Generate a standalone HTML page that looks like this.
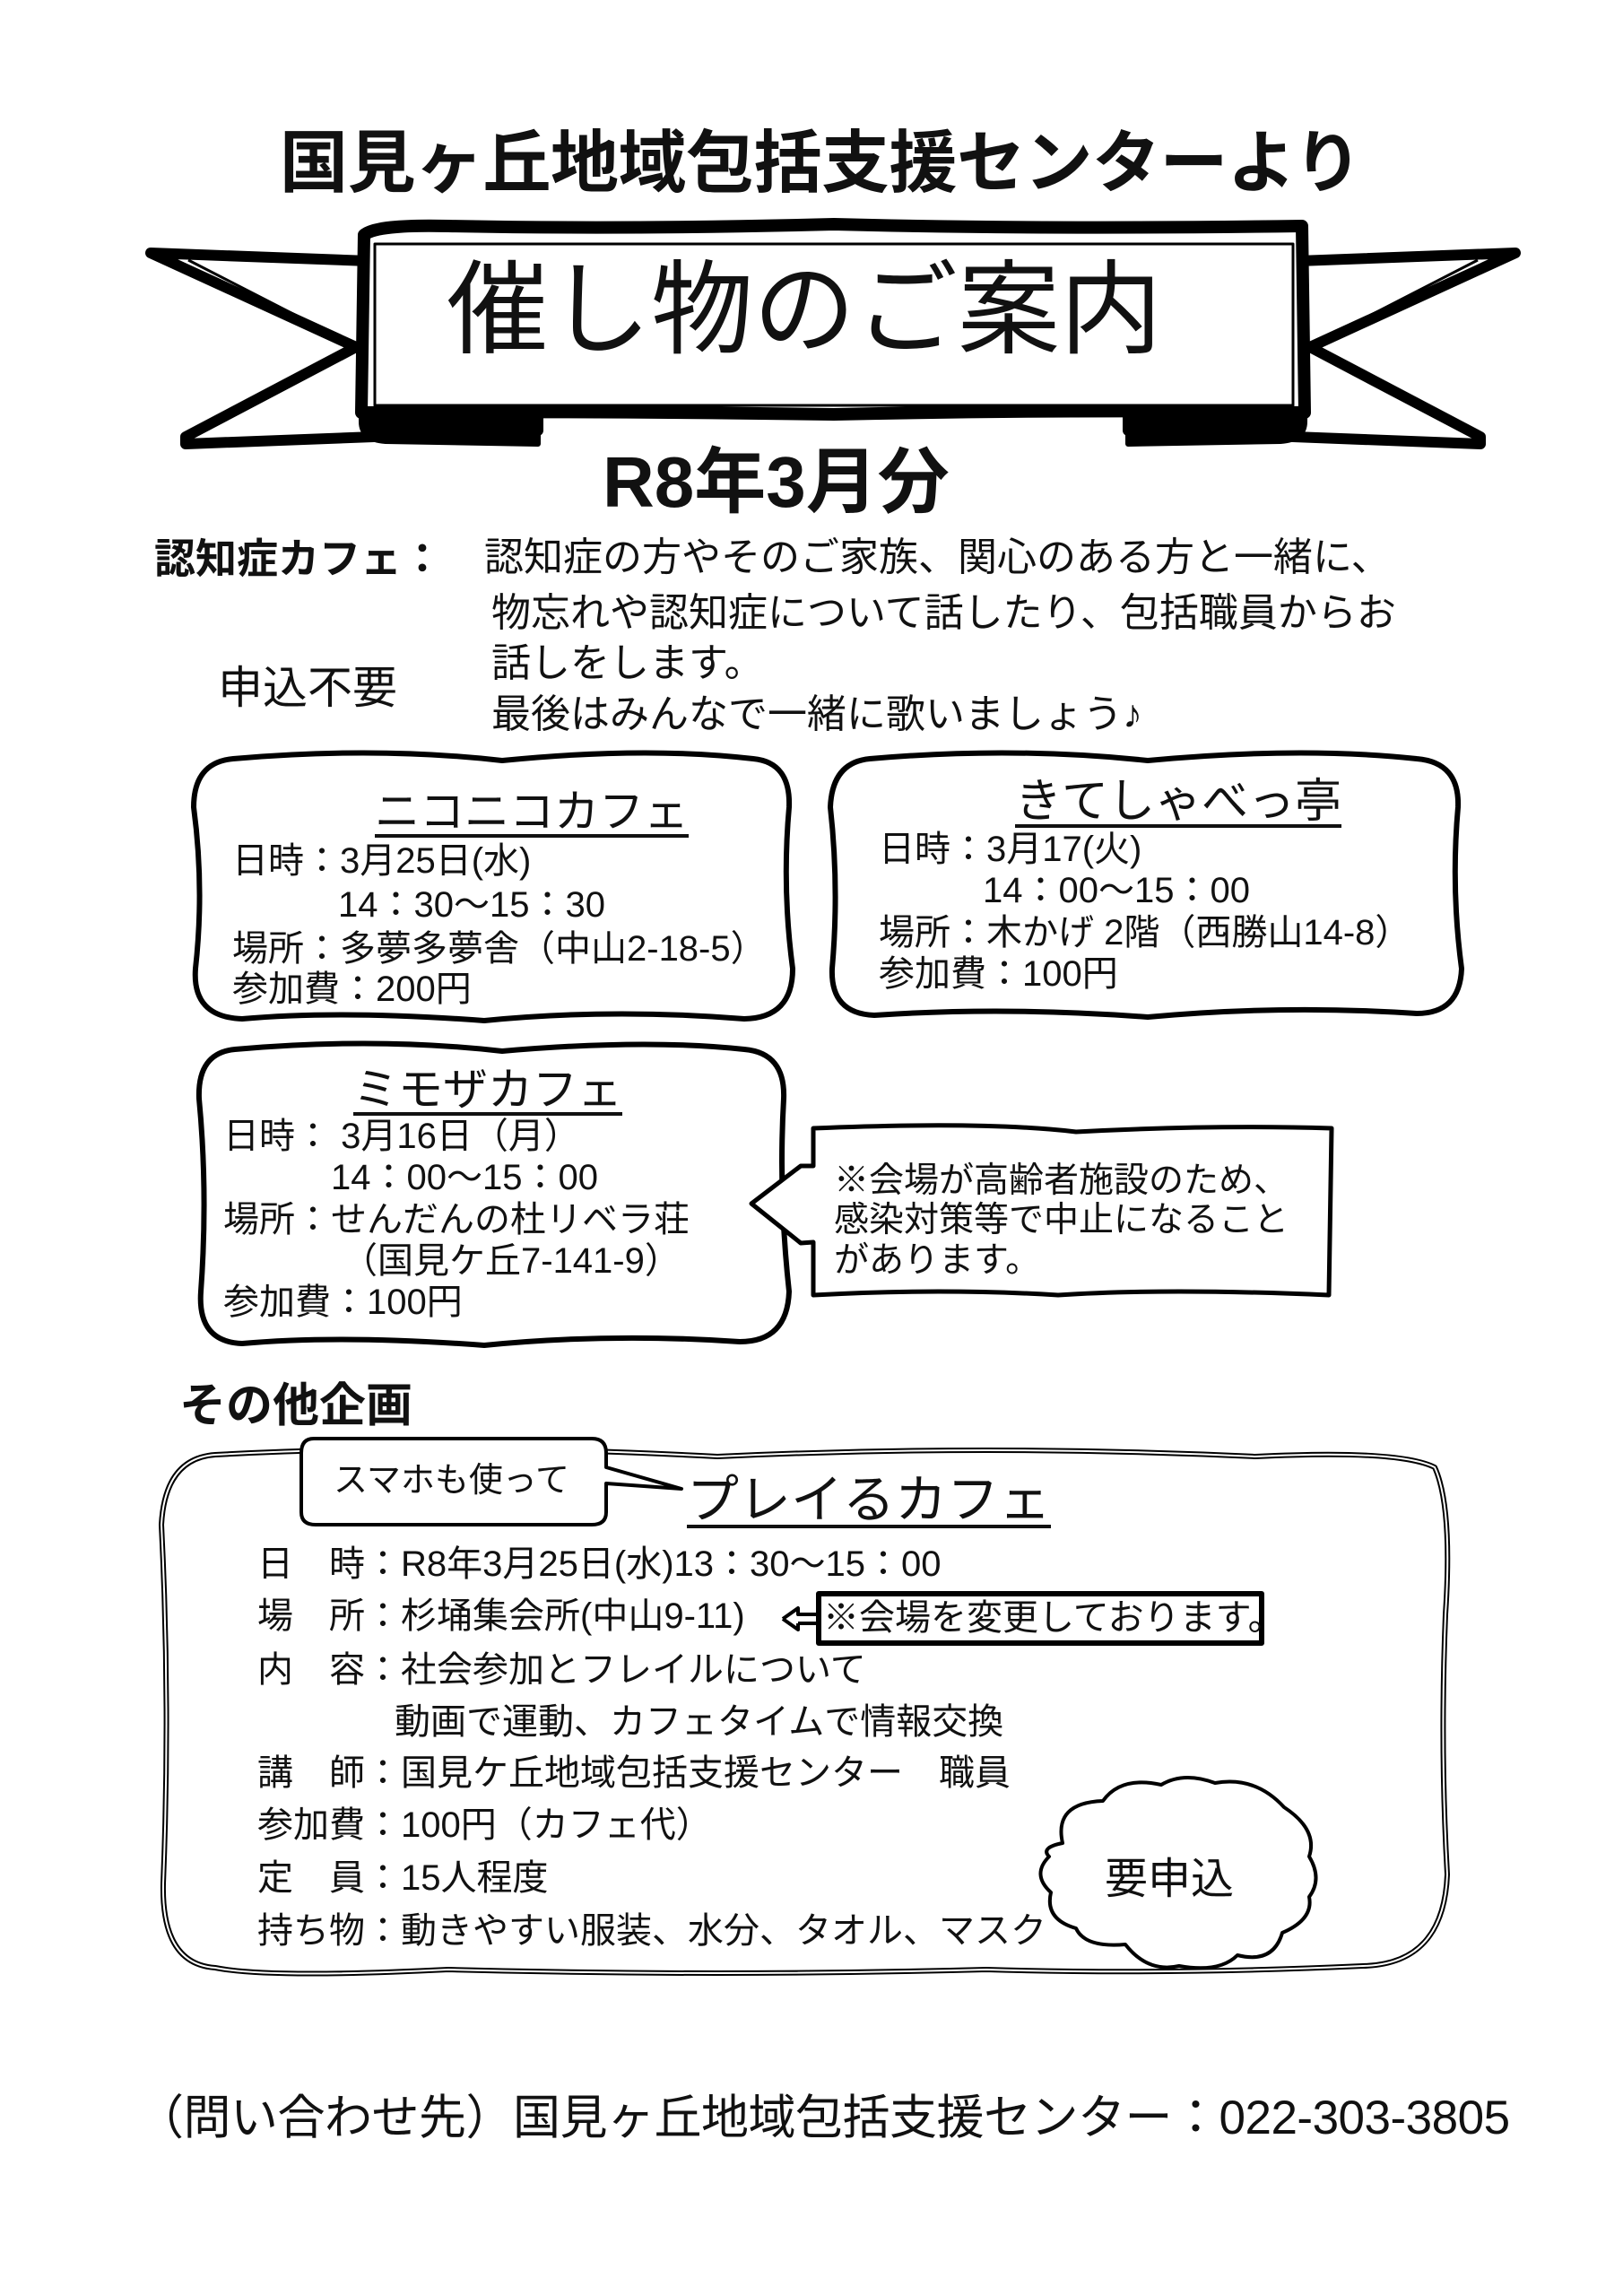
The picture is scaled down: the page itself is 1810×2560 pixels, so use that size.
<!DOCTYPE html>
<html><head><meta charset="utf-8"><style>
html,body{margin:0;padding:0;background:#fff;}
#p{position:relative;width:1810px;height:2560px;overflow:hidden;background:#fff;font-family:"Liberation Sans","Noto Sans CJK JP",sans-serif;color:#111;}
.t{position:absolute;white-space:nowrap;line-height:1;}
svg{position:absolute;left:0;top:0;}
.u{text-decoration:underline;text-decoration-thickness:4px;text-underline-offset:8px;}
</style></head><body><div id="p">
<svg width="1810" height="2560" viewBox="0 0 1810 2560">
<g fill="none" stroke="#000" stroke-linejoin="round">
<path d="M168 282 L600 298 L600 480 L207 495 L207 487 L397 387 Z" fill="#fff" stroke-width="12"/>
<path d="M1690 282 L1258 298 L1258 480 L1651 495 L1651 487 L1461 387 Z" fill="#fff" stroke-width="12"/>
<path d="M210 290 L395 385 L220 480" stroke-width="3"/>
<path d="M1648 290 L1463 385 L1638 480" stroke-width="3"/>
<path d="M403 430 L403 470 Q403 490 430 492 L600 495 L600 460 Z" fill="#000" stroke-width="6"/>
<path d="M1455 430 L1455 470 Q1455 490 1428 492 L1258 495 L1258 460 Z" fill="#000" stroke-width="6"/>
<path d="M406 262 Q420 250 500 252 Q700 256 930 250 Q1150 256 1452 252 L1455 460 Q1200 456 930 462 Q650 458 403 460 Z" fill="#fff" stroke-width="14"/>
<rect x="418" y="272" width="1024" height="180" stroke-width="3"/>
<path d="M260 846 Q420 832 560 848 Q720 832 840 846 Q882 850 880 900 Q872 990 884 1080 Q884 1135 830 1136 Q680 1124 540 1138 Q380 1126 270 1136 Q214 1134 218 1080 Q228 990 216 900 Q216 850 260 846 Z" stroke-width="6"/>
<path d="M970 846 Q1130 832 1280 848 Q1450 832 1580 846 Q1628 850 1626 900 Q1618 990 1630 1080 Q1628 1130 1580 1130 Q1430 1120 1280 1134 Q1120 1122 975 1132 Q926 1130 928 1080 Q936 990 926 900 Q928 850 970 846 Z" stroke-width="6"/>
<path d="M262 1170 Q420 1156 560 1172 Q720 1158 830 1170 Q876 1174 874 1225 Q868 1330 880 1440 Q878 1496 825 1496 Q680 1486 540 1500 Q380 1488 270 1498 Q220 1496 224 1440 Q232 1330 222 1225 Q220 1174 262 1170 Z" stroke-width="6"/>
<path d="M907 1258 Q1100 1250 1200 1262 Q1350 1254 1485 1258 L1482 1444 Q1300 1436 1180 1444 Q1050 1436 907 1444 L907 1385 L893 1386 L838 1342 L893 1300 L907 1300 Z" fill="#fff" stroke-width="5"/>
<path d="M240 1622 Q500 1608 800 1624 Q1100 1610 1400 1624 Q1560 1616 1600 1636 Q1620 1680 1612 1800 Q1606 1950 1614 2090 Q1610 2190 1520 2192 Q1300 2202 1100 2196 Q800 2204 500 2196 Q300 2206 240 2194 Q180 2190 182 2100 Q190 1900 180 1700 Q184 1626 240 1622 Z" stroke-width="6"/>
<path d="M240 1622 Q500 1608 800 1624 Q1100 1610 1400 1624 Q1560 1616 1600 1636 Q1620 1680 1612 1800 Q1606 1950 1614 2090 Q1610 2190 1520 2192 Q1300 2202 1100 2196 Q800 2204 500 2196 Q300 2206 240 2194 Q180 2190 182 2100 Q190 1900 180 1700 Q184 1626 240 1622 Z" stroke="#fff" stroke-width="2"/>
<path d="M350 1604 L660 1604 Q676 1604 676 1620 L676 1636 L760 1660 L676 1654 L676 1686 Q676 1700 660 1700 L352 1700 Q336 1700 336 1686 L336 1620 Q336 1604 350 1604 Z" fill="#fff" stroke-width="4"/>
<rect x="913" y="1777" width="494" height="55" fill="#fff" stroke-width="6"/>
<path d="M873 1805 L890 1793 L890 1800 L913 1800 M890 1810 L913 1810 M890 1810 L890 1817 L873 1805" stroke-width="4"/>
<path d="M1185 2055 Q1175 2010 1230 2008 Q1250 1980 1295 1990 Q1320 1975 1355 1988 Q1400 1980 1432 2015 Q1470 2040 1460 2070 Q1475 2095 1460 2115 Q1465 2140 1430 2155 Q1420 2190 1380 2180 Q1360 2200 1315 2192 Q1280 2200 1255 2168 Q1210 2172 1200 2150 Q1165 2140 1172 2110 Q1150 2090 1170 2070 Q1160 2060 1185 2055 Z" fill="#fff" stroke-width="4"/>
</g>
</svg>
<div class="t" style="left:312px;top:145px;font-size:76px;font-weight:bold;letter-spacing:-0.5px;">国見ヶ丘地域包括支援センターより</div>
<div class="t" style="left:498px;top:290px;font-size:114px;">催し物のご案内</div>
<div class="t" style="left:672px;top:498px;font-size:80px;font-weight:bold;">R8年3月分</div>
<div class="t" style="left:172px;top:600px;font-size:46px;font-weight:bold;">認知症カフェ：</div>
<div class="t" style="left:540px;top:600px;font-size:44px;">認知症の方やそのご家族、関心のある方と一緒に、</div>
<div class="t" style="left:548px;top:662px;font-size:44px;">物忘れや認知症について話したり、包括職員からお</div>
<div class="t" style="left:548px;top:718px;font-size:44px;">話しをします。</div>
<div class="t" style="left:548px;top:775px;font-size:44px;">最後はみんなで一緒に歌いましょう♪</div>
<div class="t" style="left:243px;top:742px;font-size:50px;">申込不要</div>

<div class="t u" style="left:418px;top:880px;font-size:50px;">ニコニコカフェ</div>
<div class="t" style="left:259px;top:940px;font-size:40px;">日時：3月25日(水)</div>
<div class="t" style="left:377px;top:989px;font-size:40px;">14：30～15：30</div>
<div class="t" style="left:259px;top:1038px;font-size:40px;">場所：多夢多夢舎（中山2-18-5）</div>
<div class="t" style="left:259px;top:1083px;font-size:40px;">参加費：200円</div>

<div class="t u" style="left:1132px;top:868px;font-size:52px;">きてしゃべっ亭</div>
<div class="t" style="left:980px;top:927px;font-size:40px;">日時：3月17(火)</div>
<div class="t" style="left:1096px;top:973px;font-size:40px;">14：00～15：00</div>
<div class="t" style="left:980px;top:1020px;font-size:40px;">場所：木かげ 2階（西勝山14-8）</div>
<div class="t" style="left:980px;top:1066px;font-size:40px;">参加費：100円</div>

<div class="t u" style="left:394px;top:1190px;font-size:50px;">ミモザカフェ</div>
<div class="t" style="left:249px;top:1247px;font-size:40px;">日時： 3月16日（月）</div>
<div class="t" style="left:369px;top:1293px;font-size:40px;">14：00～15：00</div>
<div class="t" style="left:249px;top:1340px;font-size:40px;">場所：せんだんの杜リベラ荘</div>
<div class="t" style="left:381px;top:1386px;font-size:40px;">（国見ケ丘7-141-9）</div>
<div class="t" style="left:249px;top:1432px;font-size:40px;">参加費：100円</div>

<div class="t" style="left:930px;top:1297px;font-size:39px;">※会場が高齢者施設のため、</div>
<div class="t" style="left:930px;top:1341px;font-size:39px;">感染対策等で中止になること</div>
<div class="t" style="left:930px;top:1386px;font-size:39px;">があります。</div>

<div class="t" style="left:200px;top:1542px;font-size:52px;font-weight:bold;">その他企画</div>
<div class="t" style="left:372px;top:1632px;font-size:38px;">スマホも使って</div>
<div class="t u" style="left:766px;top:1644px;font-size:58px;">プレイるカフェ</div>

<div class="t" style="left:287px;top:1724px;font-size:40px;">日　時：R8年3月25日(水)13：30～15：00</div>
<div class="t" style="left:287px;top:1782px;font-size:40px;">場　所：杉埇集会所(中山9-11)</div>
<div class="t" style="left:918px;top:1784px;font-size:40px;">※会場を変更しております。</div>
<div class="t" style="left:287px;top:1842px;font-size:40px;">内　容：社会参加とフレイルについて</div>
<div class="t" style="left:440px;top:1900px;font-size:40px;">動画で運動、カフェタイムで情報交換</div>
<div class="t" style="left:287px;top:1957px;font-size:40px;">講　師：国見ケ丘地域包括支援センター　職員</div>
<div class="t" style="left:287px;top:2015px;font-size:40px;">参加費：100円（カフェ代）</div>
<div class="t" style="left:287px;top:2074px;font-size:40px;">定　員：15人程度</div>
<div class="t" style="left:287px;top:2133px;font-size:40px;">持ち物：動きやすい服装、水分、タオル、マスク</div>
<div class="t" style="left:1232px;top:2072px;font-size:48px;">要申込</div>

<div class="t" style="left:152px;top:2335px;font-size:53px;letter-spacing:-0.5px;">（問い合わせ先）国見ヶ丘地域包括支援センター：022-303-3805</div>
</div></body></html>
